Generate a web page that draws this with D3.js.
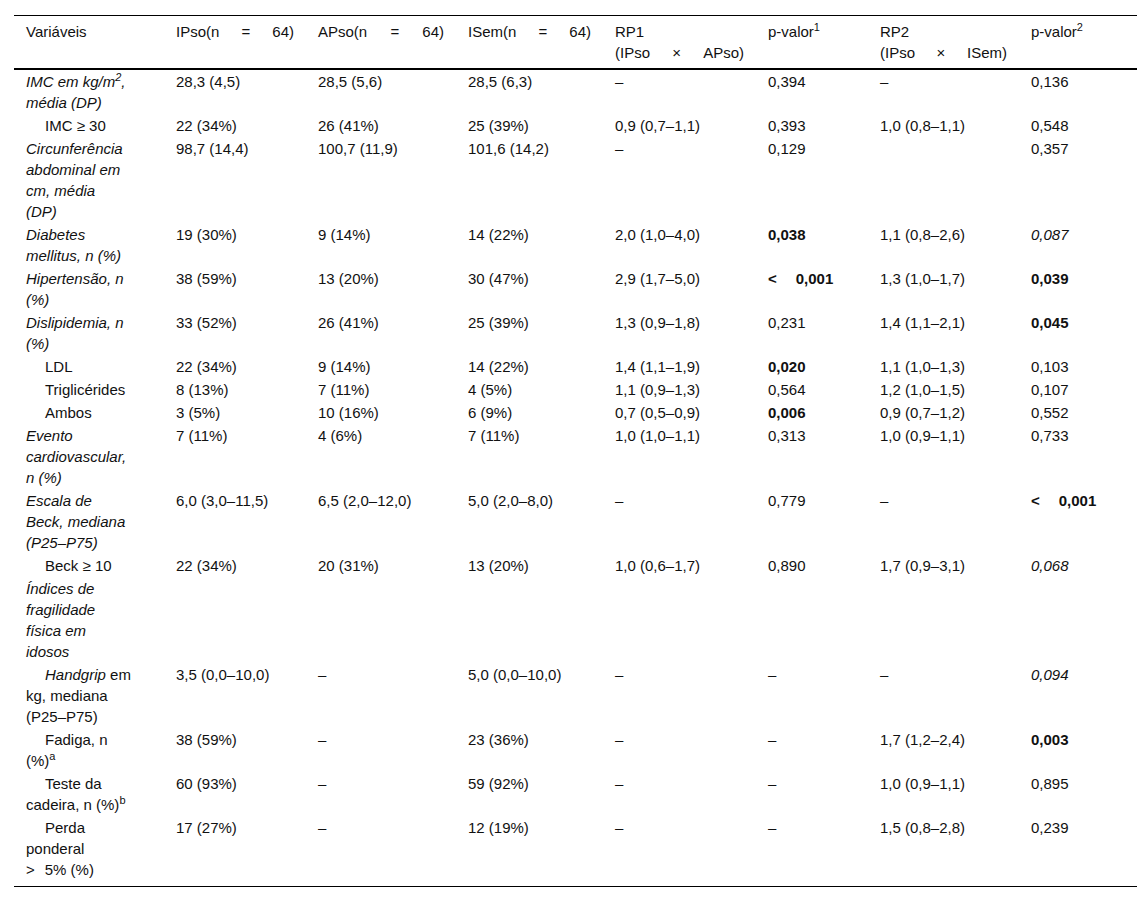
<!DOCTYPE html>
<html>
<head>
<meta charset="utf-8">
<script src="https://cdn.jsdelivr.net/npm/d3@7"></script>
<style>
  html, body { margin: 0; padding: 0; background: #fff; }
  svg { display: block; }
</style>
</head>
<body>
<div id="chart"></div>
<script>
// ---------- DATA ----------
const headers = [
  "Variáveis",
  "[j]IPso(n = 64)",
  "[j]APso(n = 64)",
  "[j]ISem(n = 64)",
  "RP1\n[j](IPso × APso)",
  "p-valor[sup]1[/sup]",
  "RP2\n[j](IPso × ISem)",
  "p-valor[sup]2[/sup]"
];

const variables = [
  "[i]IMC em kg/m[sup]2[/sup],\nmédia (DP)[/i]",
  "IMC ≥ 30",
  "[i]Circunferência\nabdominal em\ncm, média\n(DP)[/i]",
  "[i]Diabetes\nmellitus, n (%)[/i]",
  "[i]Hipertensão, n\n(%)[/i]",
  "[i]Dislipidemia, n\n(%)[/i]",
  "LDL",
  "Triglicérides",
  "Ambos",
  "[i]Evento\ncardiovascular,\nn (%)[/i]",
  "[i]Escala de\nBeck, mediana\n(P25–P75)[/i]",
  "Beck ≥ 10",
  "[i]Índices de\nfragilidade\nfísica em\nidosos[/i]",
  "[i]Handgrip[/i] em\nkg, mediana\n(P25–P75)",
  "Fadiga, n\n(%)[sup]a[/sup]",
  "Teste da\ncadeira, n (%)[sup]b[/sup]",
  "Perda\nponderal\n>[gap=10]5% (%)"
];
const indented = [false, true, false, false, false, false, true, true, true, false, false, true, false, true, true, true, true];

const ipso = ["28,3 (4,5)", "22 (34%)", "98,7 (14,4)", "19 (30%)", "38 (59%)", "33 (52%)", "22 (34%)", "8 (13%)", "3 (5%)", "7 (11%)", "6,0 (3,0–11,5)", "22 (34%)", "", "3,5 (0,0–10,0)", "38 (59%)", "60 (93%)", "17 (27%)"];
const apso = ["28,5 (5,6)", "26 (41%)", "100,7 (11,9)", "9 (14%)", "13 (20%)", "26 (41%)", "9 (14%)", "7 (11%)", "10 (16%)", "4 (6%)", "6,5 (2,0–12,0)", "20 (31%)", "", "–", "–", "–", "–"];
const isem = ["28,5 (6,3)", "25 (39%)", "101,6 (14,2)", "14 (22%)", "30 (47%)", "25 (39%)", "14 (22%)", "4 (5%)", "6 (9%)", "7 (11%)", "5,0 (2,0–8,0)", "13 (20%)", "", "5,0 (0,0–10,0)", "23 (36%)", "59 (92%)", "12 (19%)"];
const rp1 = ["–", "0,9 (0,7–1,1)", "–", "2,0 (1,0–4,0)", "2,9 (1,7–5,0)", "1,3 (0,9–1,8)", "1,4 (1,1–1,9)", "1,1 (0,9–1,3)", "0,7 (0,5–0,9)", "1,0 (1,0–1,1)", "–", "1,0 (0,6–1,7)", "", "–", "–", "–", "–"];
const pvalor1 = ["0,394", "0,393", "0,129", "[b]0,038[/b]", "[b]<[gap=19]0,001[/b]", "0,231", "[b]0,020[/b]", "0,564", "[b]0,006[/b]", "0,313", "0,779", "0,890", "", "–", "–", "–", "–"];
const rp2 = ["–", "1,0 (0,8–1,1)", "", "1,1 (0,8–2,6)", "1,3 (1,0–1,7)", "1,4 (1,1–2,1)", "1,1 (1,0–1,3)", "1,2 (1,0–1,5)", "0,9 (0,7–1,2)", "1,0 (0,9–1,1)", "–", "1,7 (0,9–3,1)", "", "–", "1,7 (1,2–2,4)", "1,0 (0,9–1,1)", "1,5 (0,8–2,8)"];
const pvalor2 = ["0,136", "0,548", "0,357", "[i]0,087[/i]", "[b]0,039[/b]", "[b]0,045[/b]", "0,103", "0,107", "0,552", "0,733", "[b]<[gap=19]0,001[/b]", "[i]0,068[/i]", "", "[i]0,094[/i]", "[b]0,003[/b]", "0,895", "0,239"];

// ---------- LAYOUT ----------
const W = 1137, H = 902;
const colWidths = [150, 142, 150, 147, 153, 112, 151, 118];
const tableLeft = 14, tableRight = 1137;
const padX = 12, indentX = 19;
const lineH = 21, fontSize = 15, supSize = 11, baseOff = 15.5;
const headTop = 15, headPad = 6, rowPad = 1, bottomExtra = 5;
const font = "'Liberation Sans', Arial, Helvetica, sans-serif";

const columns = [variables, ipso, apso, isem, rp1, pvalor1, rp2, pvalor2];

const cum = [0, ...d3.cumsum(colWidths)];
const x = d3.scaleLinear().domain([0, d3.sum(colWidths)]).range([tableLeft, tableRight]);
const colLeft = i => x(cum[i]);
const colRight = i => x(cum[i + 1]);

// parse mini-markup into lines of styled segments
function parse(str) {
  const lines = [{ justify: false, segs: [] }];
  const st = { b: false, i: false, sup: false };
  const re = /\[(\/?)(b|i|sup)\]|\[gap=(\d+)\]|\[j\]|\n/g;
  let last = 0, m, pendingGap = 0;
  const push = (t) => {
    if (t) {
      lines[lines.length - 1].segs.push({ text: t, b: st.b, i: st.i, sup: st.sup, gap: pendingGap });
      pendingGap = 0;
    }
  };
  while ((m = re.exec(str)) !== null) {
    push(str.slice(last, m.index));
    last = re.lastIndex;
    if (m[0] === "\n") lines.push({ justify: false, segs: [] });
    else if (m[0] === "[j]") lines[lines.length - 1].justify = true;
    else if (m[3]) pendingGap = +m[3];
    else st[m[2]] = m[1] !== "/";
  }
  push(str.slice(last));
  return lines;
}

const svg = d3.select("#chart").append("svg")
  .attr("width", W).attr("height", H)
  .style("font-family", font).style("font-size", fontSize + "px");

function drawLine(g, line, x0, x1, yBase) {
  if (line.justify) {
    const words = line.segs.map(s => s.text).join("").split(/\s+/).filter(Boolean);
    const nodes = words.map(w => g.append("text").attr("y", yBase).attr("fill", "#111").text(w));
    const widths = nodes.map(n => n.node().getComputedTextLength());
    const gap = words.length > 1 ? (x1 - x0 - d3.sum(widths)) / (words.length - 1) : 0;
    let cx = x0;
    nodes.forEach((n, k) => { n.attr("x", cx); cx += widths[k] + gap; });
    return;
  }
  const t = g.append("text").attr("x", x0).attr("y", yBase).attr("fill", "#111");
  let shift = 0;
  line.segs.forEach(s => {
    const target = s.sup ? -6 : 0;
    const ts = t.append("tspan")
      .attr("font-weight", s.b ? "bold" : "normal")
      .attr("font-style", s.i ? "italic" : "normal")
      .attr("font-size", s.sup ? supSize + "px" : null);
    if (target !== shift) { ts.attr("dy", target - shift); shift = target; }
    if (s.gap) ts.attr("dx", s.gap);
    ts.text(s.text);
  });
}

function drawCell(g, str, col, cellTop, indent) {
  const lines = parse(str);
  lines.forEach((ln, k) => {
    const x0 = colLeft(col) + padX + (k === 0 && indent ? indentX : 0);
    const x1 = colRight(col) - padX;
    drawLine(g, ln, x0, x1, cellTop + k * lineH + baseOff);
  });
}

// header
const headLines = d3.max(headers, h => parse(h).length);
const headBottom = headTop + headPad * 2 + headLines * lineH;
const gHead = svg.append("g");
headers.forEach((h, c) => drawCell(gHead, h, c, headTop + headPad, false));

// body rows
const rowLines = variables.map((v, r) => d3.max(columns, col => col[r] ? parse(col[r]).length : 1));
const y = d3.scaleLinear().domain([0, 1]).range([0, lineH]);
let curTop = headBottom + 1;
const rowTops = rowLines.map(n => { const t0 = curTop; curTop += y(n) + rowPad * 2; return t0; });
const tableBottom = curTop + bottomExtra;

const gBody = svg.append("g");
variables.forEach((v, r) => {
  columns.forEach((col, c) => {
    if (col[r]) drawCell(gBody, col[r], c, rowTops[r] + rowPad, c === 0 && indented[r]);
  });
});

// rules
svg.append("line").attr("x1", tableLeft).attr("x2", tableRight)
  .attr("y1", headTop + 0.5).attr("y2", headTop + 0.5).attr("stroke", "#000").attr("stroke-width", 1);
svg.append("line").attr("x1", tableLeft).attr("x2", tableRight)
  .attr("y1", headBottom).attr("y2", headBottom).attr("stroke", "#000").attr("stroke-width", 2);
svg.append("line").attr("x1", tableLeft).attr("x2", tableRight)
  .attr("y1", tableBottom + 0.5).attr("y2", tableBottom + 0.5).attr("stroke", "#000").attr("stroke-width", 1);
</script>
</body>
</html>
